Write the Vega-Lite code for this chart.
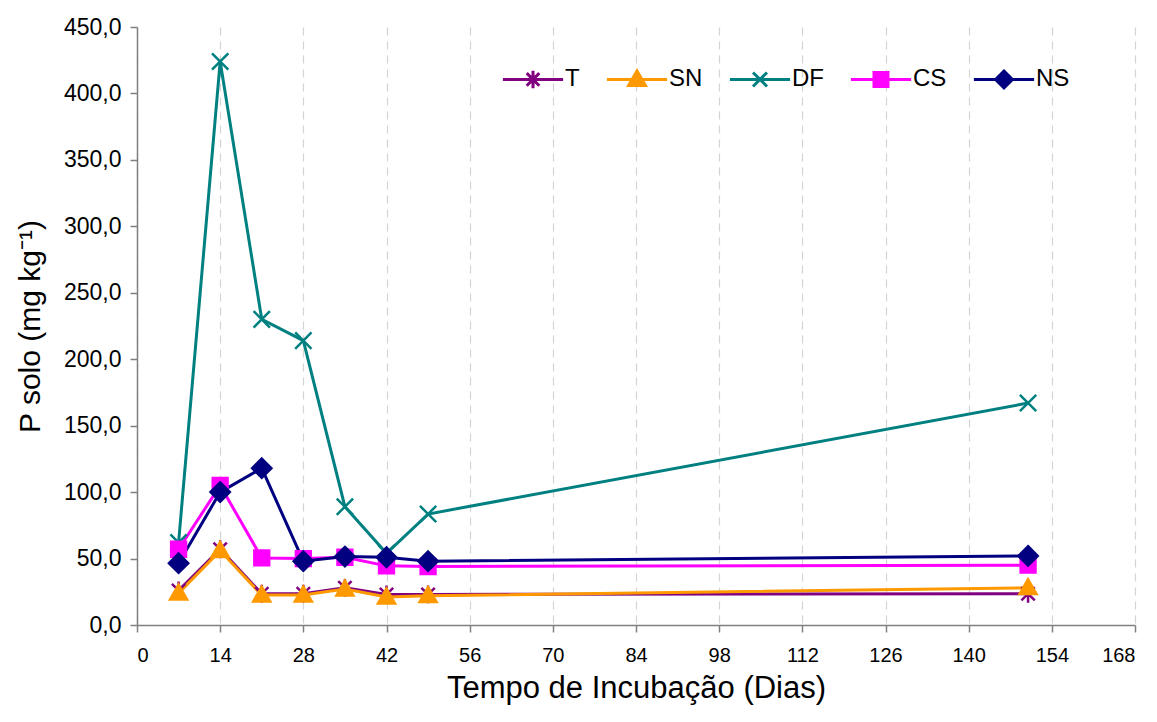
{
  "$schema": "https://vega.github.io/schema/vega-lite/v6.json",
  "width": 998,
  "height": 598,
  "autosize": {"type": "none"},
  "padding": {"left": 137, "top": 27, "right": 22, "bottom": 97},
  "background": "white",
  "config": {
    "view": {"stroke": null},
    "font": "Liberation Sans",
    "locale": {"number": {"decimal": ",", "thousands": ".", "grouping": [3], "currency": ["", ""]}},
    "axis": {"labelFont": "Liberation Sans", "titleFont": "Liberation Sans", "labelColor": "black", "titleColor": "black", "titleFontWeight": "normal", "domainColor": "#808080", "tickColor": "#808080", "domainWidth": 1.5, "tickWidth": 1.5, "tickSize": 7}
  },
  "data": {
    "values": [
      {"dia": 7, "P": 26, "s": "T"}, {"dia": 14, "P": 57, "s": "T"}, {"dia": 21, "P": 23.5, "s": "T"}, {"dia": 28, "P": 23.5, "s": "T"}, {"dia": 35, "P": 28, "s": "T"}, {"dia": 42, "P": 23, "s": "T"}, {"dia": 49, "P": 23, "s": "T"}, {"dia": 150, "P": 23.5, "s": "T"},
      {"dia": 7, "P": 24, "s": "SN"}, {"dia": 14, "P": 56, "s": "SN"}, {"dia": 21, "P": 22.5, "s": "SN"}, {"dia": 28, "P": 22.5, "s": "SN"}, {"dia": 35, "P": 27, "s": "SN"}, {"dia": 42, "P": 21, "s": "SN"}, {"dia": 49, "P": 22, "s": "SN"}, {"dia": 150, "P": 28, "s": "SN"},
      {"dia": 7, "P": 62, "s": "DF"}, {"dia": 14, "P": 424, "s": "DF"}, {"dia": 21, "P": 230, "s": "DF"}, {"dia": 28, "P": 214, "s": "DF"}, {"dia": 35, "P": 89, "s": "DF"}, {"dia": 42, "P": 54, "s": "DF"}, {"dia": 49, "P": 83.5, "s": "DF"}, {"dia": 150, "P": 167, "s": "DF"},
      {"dia": 7, "P": 57, "s": "CS"}, {"dia": 14, "P": 105, "s": "CS"}, {"dia": 21, "P": 50.5, "s": "CS"}, {"dia": 28, "P": 50, "s": "CS"}, {"dia": 35, "P": 51, "s": "CS"}, {"dia": 42, "P": 44.5, "s": "CS"}, {"dia": 49, "P": 44, "s": "CS"}, {"dia": 150, "P": 45, "s": "CS"},
      {"dia": 7, "P": 46.5, "s": "NS"}, {"dia": 14, "P": 100, "s": "NS"}, {"dia": 21, "P": 118, "s": "NS"}, {"dia": 28, "P": 48, "s": "NS"}, {"dia": 35, "P": 51.5, "s": "NS"}, {"dia": 42, "P": 51, "s": "NS"}, {"dia": 49, "P": 48, "s": "NS"}, {"dia": 150, "P": 52, "s": "NS"}
    ]
  },
  "encoding": {
    "x": {
      "field": "dia", "type": "quantitative",
      "scale": {"domain": [0, 168], "nice": false, "zero": false},
      "axis": {
        "values": [0, 14, 28, 42, 56, 70, 84, 98, 112, 126, 140, 154, 168],
        "title": "Tempo de Incubação (Dias)",
        "titleFontSize": 31, "titlePadding": 8,
        "labelFontSize": 20, "labelPadding": 13,
        "grid": true, "gridColor": "#d4d4d4", "gridDash": [8, 6], "gridWidth": 1.2
      }
    },
    "y": {
      "field": "P", "type": "quantitative",
      "scale": {"domain": [0, 450], "nice": false},
      "axis": {
        "values": [0, 50, 100, 150, 200, 250, 300, 350, 400, 450],
        "format": ".1f",
        "title": "P solo (mg kg⁻¹)",
        "titleFontSize": 30, "titlePadding": 18,
        "labelFontSize": 23, "labelPadding": 9,
        "grid": false
      }
    }
  },
  "layer": [
    {
      "mark": {"type": "line", "strokeWidth": 3},
      "encoding": {
        "stroke": {"field": "s", "type": "nominal", "legend": null,
          "scale": {"domain": ["T", "SN", "DF", "CS", "NS"], "range": ["#800080", "#FF9900", "#008080", "#FF00FF", "#000080"]}}
      }
    },
    {
      "mark": {"type": "point", "filled": true, "opacity": 1, "size": 220, "strokeWidth": 2.5},
      "encoding": {
        "fill": {"field": "s", "type": "nominal", "legend": null,
          "scale": {"domain": ["T", "SN", "DF", "CS", "NS"], "range": ["#800080", "#FF9900", "#008080", "#FF00FF", "#000080"]}},
        "stroke": {"field": "s", "type": "nominal", "legend": null,
          "scale": {"domain": ["T", "SN", "DF", "CS", "NS"], "range": ["#800080", "#FF9900", "#008080", "#FF00FF", "#000080"]}},
        "shape": {"field": "s", "type": "nominal", "legend": null,
          "scale": {"domain": ["T", "SN", "DF", "CS", "NS"], "range": [
            "M-0.9,-0.9L0.9,0.9M-0.9,0.9L0.9,-0.9M0,-1.2V1.2",
            "M0,-1.15L1.15,0.85H-1.15Z",
            "M-1.1,-1.1L1.1,1.1M-1.1,1.1L1.1,-1.1",
            "M-1,-1H1V1H-1Z",
            "M0,-1.3L1.3,0L0,1.3L-1.3,0Z"
          ]}}
      }
    },
    {
      "mark": {"type": "point", "filled": true, "opacity": 0, "strokeWidth": 3},
      "encoding": {
        "fill": {"field": "s", "type": "nominal",
          "scale": {"domain": ["T", "SN", "DF", "CS", "NS"], "range": ["#800080", "#FF9900", "#008080", "#FF00FF", "#000080"]},
          "legend": {"title": null, "orient": "none", "direction": "horizontal", "columns": 5, "legendX": 384, "legendY": 40,
            "symbolSize": 196, "symbolOpacity": 1, "symbolStrokeWidth": 3, "labelFont": "Liberation Sans", "labelFontSize": 24, "labelColor": "black", "labelOffset": 20, "columnPadding": 20, "padding": 0}},
        "stroke": {"field": "s", "type": "nominal",
          "scale": {"domain": ["T", "SN", "DF", "CS", "NS"], "range": ["#800080", "#FF9900", "#008080", "#FF00FF", "#000080"]},
          "legend": {"title": null, "orient": "none", "direction": "horizontal", "columns": 5, "legendX": 384, "legendY": 40,
            "symbolSize": 196, "symbolOpacity": 1, "symbolStrokeWidth": 3, "labelFont": "Liberation Sans", "labelFontSize": 24, "labelColor": "black", "labelOffset": 20, "columnPadding": 20, "padding": 0}},
        "shape": {"field": "s", "type": "nominal",
          "scale": {"domain": ["T", "SN", "DF", "CS", "NS"], "range": [
            "M0,-1.3M0,1.3M-4.3,0H4.3M-0.9,-0.9L0.9,0.9M-0.9,0.9L0.9,-0.9M0,-1.25V1.25",
            "M0,-1.3M0,1.3M-4.3,0H4.3M0,-1.2L1.2,0.85H-1.2Z",
            "M0,-1.3M0,1.3M-4.3,0H4.3M-1,-1L1,1M-1,1L1,-1",
            "M0,-1.3M0,1.3M-4.3,0H4.3M-1,-1H1V1H-1Z",
            "M0,-1.3M0,1.3M-4.3,0H4.3M0,-1.2L1.2,0L0,1.2L-1.2,0Z"
          ]},
          "legend": {"title": null, "orient": "none", "direction": "horizontal", "columns": 5, "legendX": 384, "legendY": 40,
            "symbolSize": 196, "symbolOpacity": 1, "symbolStrokeWidth": 3, "labelFont": "Liberation Sans", "labelFontSize": 24, "labelColor": "black", "labelOffset": 20, "columnPadding": 20, "padding": 0}}
      }
    }
  ],
  "resolve": {"scale": {"fill": "independent", "stroke": "independent", "shape": "independent"}}
}
